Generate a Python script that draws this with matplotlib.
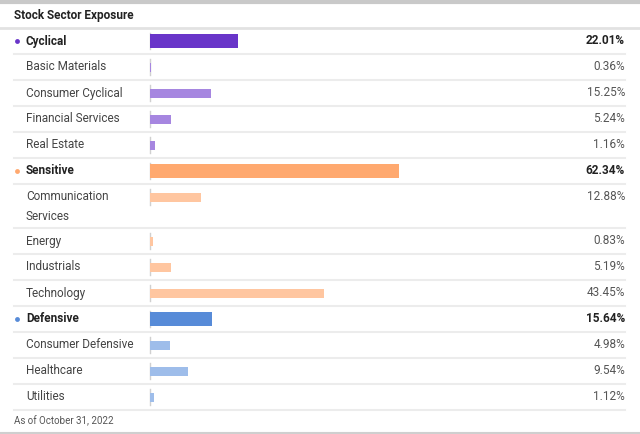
import matplotlib.pyplot as plt
from matplotlib.lines import Line2D

# ------------------------------------------------------------------
# data
# ------------------------------------------------------------------
labels = ["Cyclical", "Basic Materials", "Consumer Cyclical", "Financial Services",
          "Real Estate", "Sensitive", "Communication\nServices", "Energy",
          "Industrials", "Technology", "Defensive", "Consumer Defensive",
          "Healthcare", "Utilities"]
values = [22.01, 0.36, 15.25, 5.24, 1.16, 62.34, 12.88, 0.83, 5.19, 43.45,
          15.64, 4.98, 9.54, 1.12]
is_group = [True, False, False, False, False, True, False, False, False, False,
            True, False, False, False]
group_of = ["cyc"] * 5 + ["sen"] * 5 + ["def"] * 4
footnote = "As of October 31, 2022"
title = "Stock Sector Exposure"

main_col = {"cyc": "#6935c9", "sen": "#ffa96f", "def": "#578bd8"}
sub_col = {"cyc": "#a686e0", "sen": "#ffc6a0", "def": "#9ebdea"}

W, H = 640, 434
FONT = ["Roboto", "DejaVu Sans"]
FS = 8.5

fig = plt.figure(figsize=(W / 100, H / 100), dpi=100)
fig.patch.set_facecolor("white")
ax = fig.add_axes([0, 0, 1, 1])
ax.set_xlim(0, W)
ax.set_ylim(H, 0)
ax.axis("off")

# bar axes: 0..100 % spans x=150..549 px
bx0, bw = 150, 399.5
axb = fig.add_axes([bx0 / W, 0, bw / W, 1])
axb.set_xlim(0, 100)
axb.set_ylim(H, 0)
axb.axis("off")

# frame lines
ax.add_line(Line2D([0, W], [1.5, 1.5], color="#c9c9c9", lw=3))
ax.add_line(Line2D([0, W], [28, 28], color="#e2e2e2", lw=2))
ax.add_line(Line2D([0, W], [432.5, 432.5], color="#cfcfcf", lw=1.5))
ax.text(14, 15.5, title, fontsize=FS, fontweight="bold", color="#222222",
        va="center", ha="left", family=FONT)

# row layout
y = 28
for lab, val, grp, g in zip(labels, values, is_group, group_of):
    h = 44 if "\n" in lab else 26
    yc = y + 13
    color = main_col[g] if grp else sub_col[g]
    bh = 14 if grp else 9
    axb.barh(yc, val, height=bh, left=0, color=color, linewidth=0)
    ax.add_line(Line2D([150, 150], [yc - 8, yc + 8], color="#d0d0d0", lw=1))
    if grp:
        ax.plot(17, yc, "o", ms=3.5, color=color, mec="none")
        ax.text(26, yc, lab, fontsize=FS, fontweight="bold", color="#222222",
                va="center", ha="left", family=FONT)
        ax.text(625, yc, f"{val:.2f}%", fontsize=FS, fontweight="bold",
                color="#222222", va="center", ha="right", family=FONT)
    else:
        ax.text(26, y + 6.5, lab, fontsize=FS, color="#444444", va="top",
                ha="left", family=FONT, linespacing=1.62)
        ax.text(625, yc, f"{val:.2f}%", fontsize=FS, color="#555555",
                va="center", ha="right", family=FONT)
    y += h
    ax.add_line(Line2D([14, 625], [y, y], color="#ececec", lw=1.5))

ax.text(14, 421, footnote, fontsize=7, color="#555555", va="center",
        ha="left", family=FONT)

fig.savefig("out.png", dpi=100, facecolor=fig.get_facecolor())
